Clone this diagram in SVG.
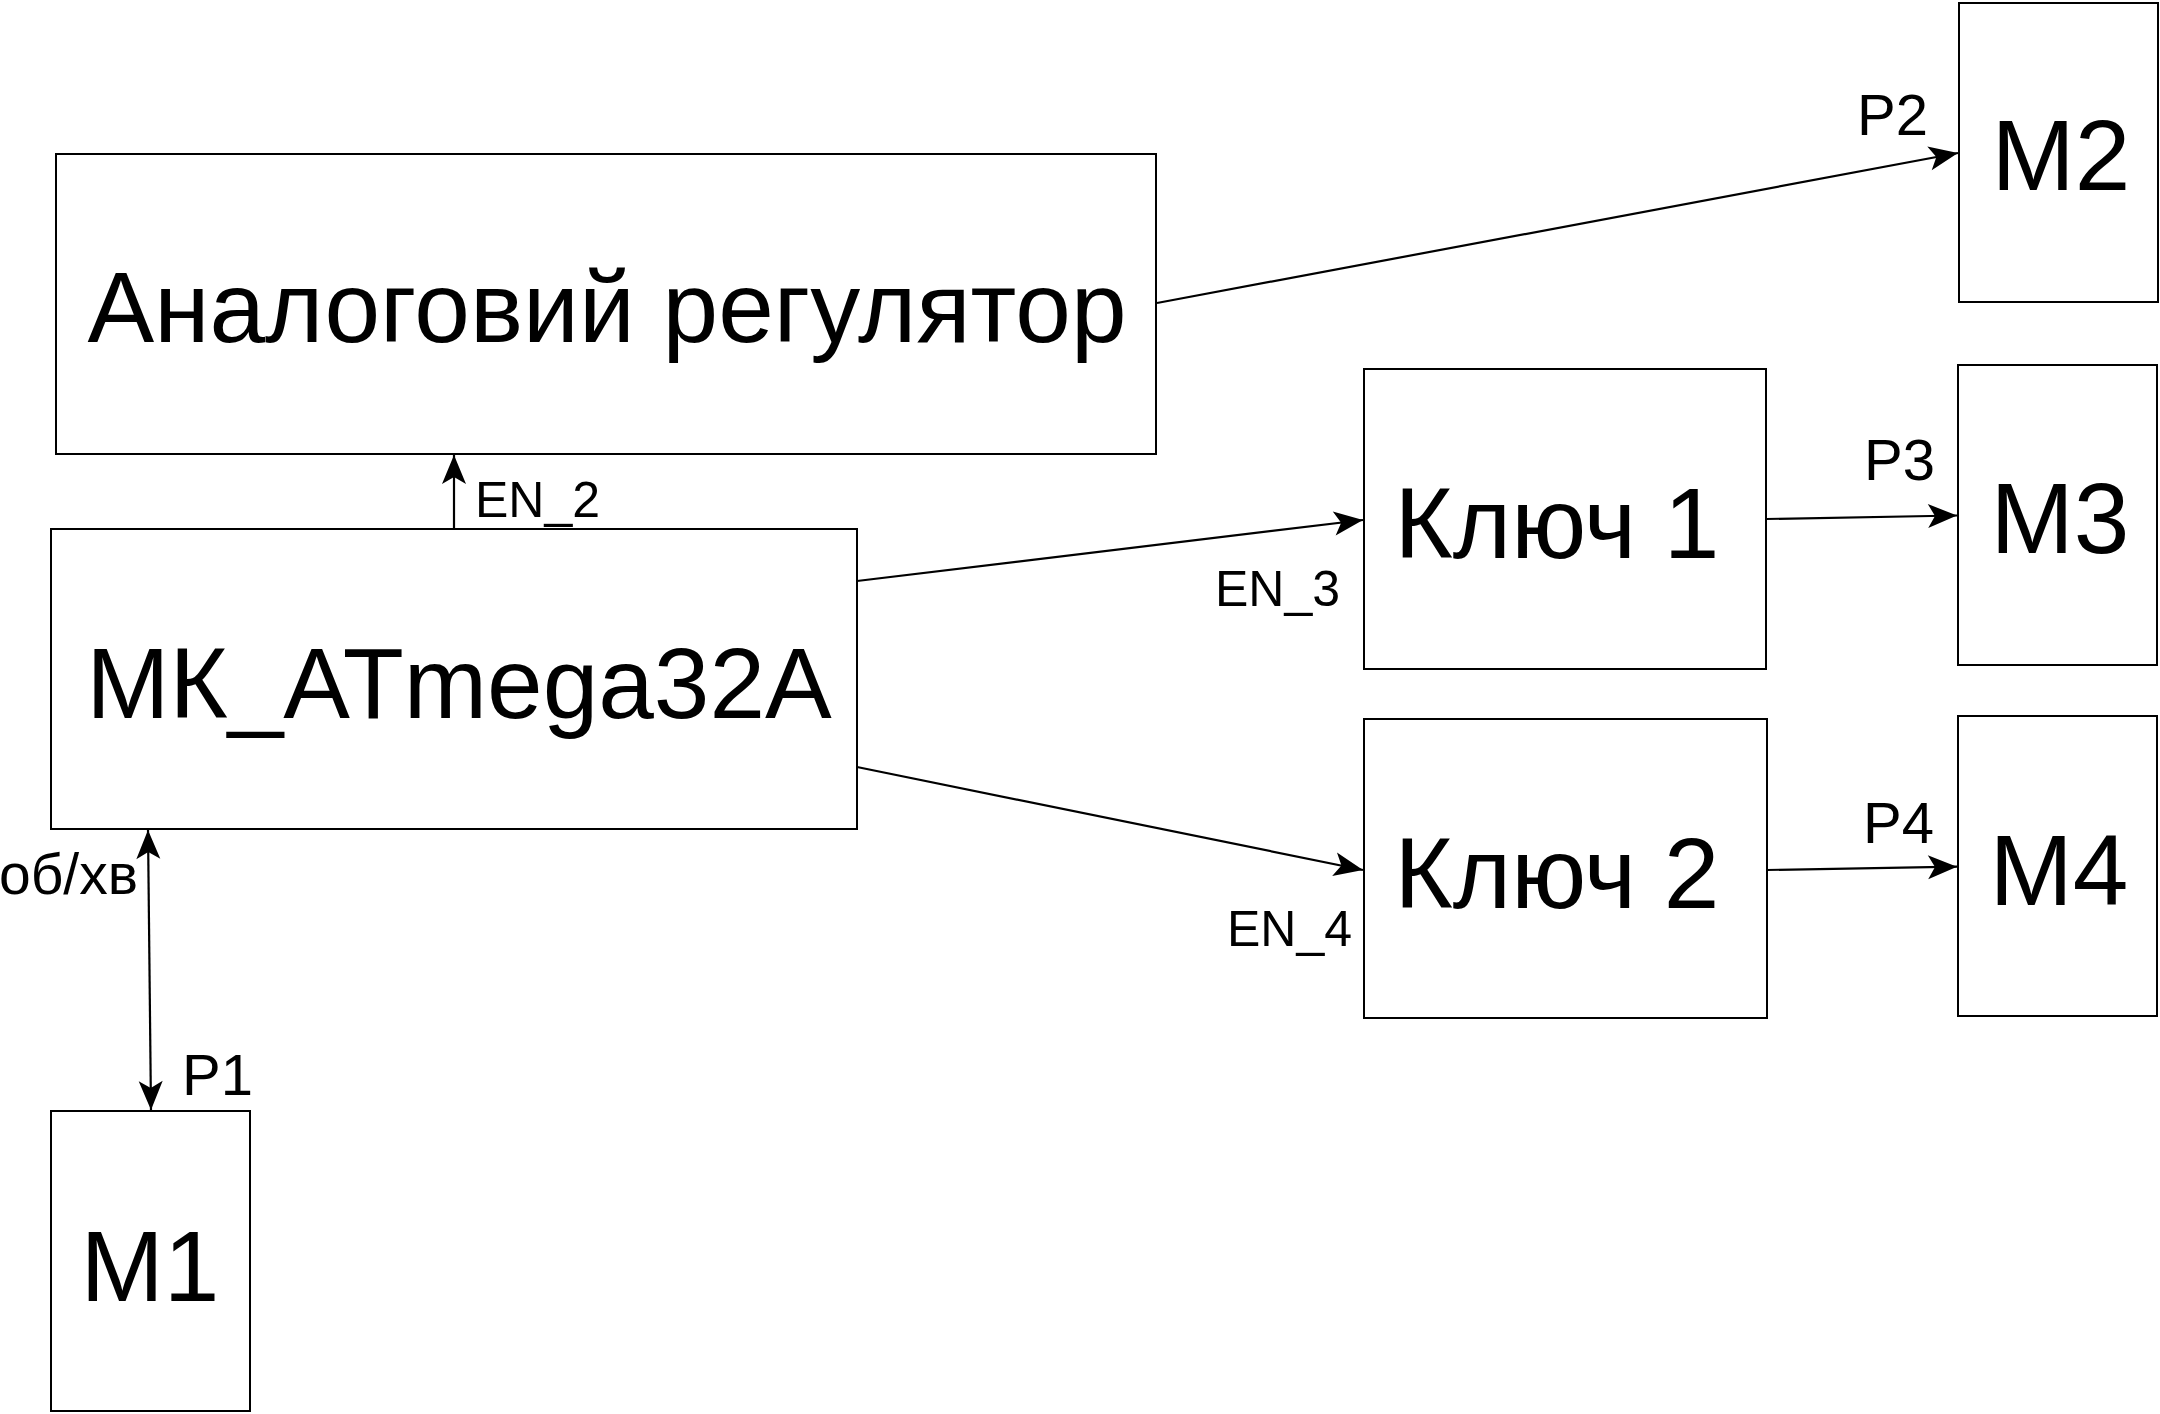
<svg xmlns="http://www.w3.org/2000/svg" width="2160" height="1414" viewBox="0 0 2160 1414">
<style>
.box{fill:#fff;stroke:#000;stroke-width:2}
.big{font-family:"Liberation Sans",Arial,sans-serif;font-size:100px;fill:#000;text-anchor:middle}
.lbl{font-family:"Liberation Sans",Arial,sans-serif;font-size:58px;fill:#000}
.en{font-family:"Liberation Sans",Arial,sans-serif;font-size:50px;fill:#000}
.con{fill:none;stroke:#000;stroke-width:2.2}
</style>
<defs>
<marker id="arr" markerUnits="userSpaceOnUse" viewBox="-32 -14 34 28" refX="0" refY="0" markerWidth="34" markerHeight="28" orient="auto-start-reverse">
<path d="M0,0 L-29,-12 L-22,0 L-29,12 Z" fill="#000"/>
</marker>
</defs>
<rect width="2160" height="1414" fill="#fff"/>
<g id="analog">
<rect class="box" x="56" y="154" width="1100" height="300"/>
<text class="big" x="607" y="342">Аналоговий регулятор</text>
</g>
<g id="mk">
<rect class="box" x="51" y="529" width="806" height="300"/>
<text class="big" x="459" y="718">МК_ATmega32A</text>
</g>
<g id="m1">
<rect class="box" x="51" y="1111" width="199" height="300"/>
<text class="big" x="150" y="1301">M1</text>
</g>
<g id="key1">
<rect class="box" x="1364" y="369" width="402" height="300"/>
<text class="big" x="1557" y="558">Ключ 1</text>
</g>
<g id="key2">
<rect class="box" x="1364" y="719" width="403" height="299"/>
<text class="big" x="1557" y="908">Ключ 2</text>
</g>
<g id="m2">
<rect class="box" x="1959" y="3" width="199" height="299"/>
<text class="big" x="2061" y="190">M2</text>
</g>
<g id="m3">
<rect class="box" x="1958" y="365" width="199" height="300"/>
<text class="big" x="2060" y="553">M3</text>
</g>
<g id="m4">
<rect class="box" x="1958" y="716" width="199" height="300"/>
<text class="big" x="2059" y="905">M4</text>
</g>
<g id="connectors">
<line class="con" x1="454" y1="529" x2="454" y2="455" marker-end="url(#arr)"/>
<line class="con" x1="1157" y1="303" x2="1958" y2="153" marker-end="url(#arr)"/>
<line class="con" x1="857" y1="581" x2="1363" y2="520" marker-end="url(#arr)"/>
<line class="con" x1="857" y1="767" x2="1363" y2="870" marker-end="url(#arr)"/>
<line class="con" x1="1766" y1="519" x2="1957" y2="515.5" marker-end="url(#arr)"/>
<line class="con" x1="1767" y1="870" x2="1957" y2="866.7" marker-end="url(#arr)"/>
<line class="con" x1="148" y1="830" x2="151" y2="1110" marker-start="url(#arr)" marker-end="url(#arr)"/>
</g>
<g id="labels">
<text class="en" x="475" y="517">EN_2</text>
<text class="en" x="1215" y="606">EN_3</text>
<text class="en" x="1227" y="946">EN_4</text>
<text class="lbl" x="1857" y="135">P2</text>
<text class="lbl" x="1864" y="480">P3</text>
<text class="lbl" x="1863" y="843">P4</text>
<text class="lbl" x="182" y="1095">P1</text>
<text class="lbl" x="-1" y="894" style="font-size:57px">об/хв</text>
</g>
</svg>
